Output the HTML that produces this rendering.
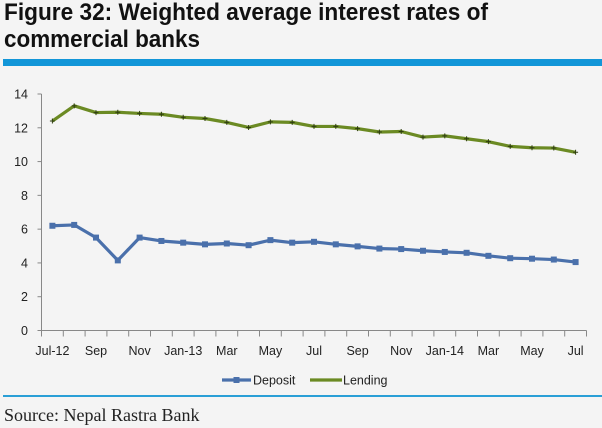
<!DOCTYPE html>
<html><head><meta charset="utf-8"><style>
html,body{margin:0;padding:0;background:#f4f4f4;}
svg{display:block;font-family:"Liberation Sans",sans-serif;}
</style></head><body>
<svg width="602" height="428" viewBox="0 0 602 428">
<rect x="0" y="0" width="602" height="428" fill="#f4f4f4"/>
<text x="4" y="20" font-size="24" font-weight="bold" fill="#111" textLength="484" lengthAdjust="spacingAndGlyphs">Figure 32: Weighted average interest rates of</text>
<text x="4" y="47" font-size="24" font-weight="bold" fill="#111" textLength="196" lengthAdjust="spacingAndGlyphs">commercial banks</text>
<rect x="3" y="59" width="599" height="7" fill="#1296d8"/>
<g id="chart"></g>
<rect x="3" y="395" width="599" height="2" fill="#2a9fd6"/>
<text x="4" y="421" font-family="Liberation Serif,serif" font-size="18" fill="#222">Source: Nepal Rastra Bank</text>
</svg>
<script>
const categories=["Jul-12","Aug","Sep","Oct","Nov","Dec","Jan-13","Feb","Mar","Apr","May","Jun","Jul","Aug","Sep","Oct","Nov","Dec","Jan-14","Feb","Mar","Apr","May","Jun","Jul"];
const deposit=[6.2,6.25,5.5,4.15,5.5,5.3,5.2,5.1,5.15,5.05,5.35,5.2,5.25,5.1,4.98,4.85,4.82,4.72,4.65,4.6,4.42,4.28,4.25,4.2,4.05];
const lending=[12.4,13.3,12.9,12.92,12.85,12.8,12.62,12.55,12.32,12.02,12.35,12.32,12.08,12.08,11.95,11.75,11.78,11.45,11.52,11.35,11.18,10.9,10.82,10.8,10.55];
const yTicks=[0,2,4,6,8,10,12,14];
const NS="http://www.w3.org/2000/svg";
const g=document.getElementById('chart');
const X0=41.5,X1=586.5,Y0=330.5,Y1=94,YMAX=14;
const bw=(X1-X0)/categories.length;
function xs(i){return X0+bw*(i+0.5);}
function ys(v){return Y0-(v/YMAX)*(Y0-Y1);}
function mk(t,a){const e=document.createElementNS(NS,t);for(const k in a)e.setAttribute(k,a[k]);g.appendChild(e);return e;}
let e=mk('line',{x1:X0,y1:Y1,x2:X0,y2:Y0,stroke:'#888','stroke-width':1});


e=mk('line',{x1:X0,y1:Y0,x2:X1,y2:Y0,stroke:'#888','stroke-width':1});


yTicks.forEach(v=>{
 const y=ys(v);
 let t=mk('line',{x1:X0-4,y1:y,x2:X0,y2:y,stroke:'#888'});
 
 
 let l=mk('text',{x:28,y:y+4.5,'text-anchor':'end','font-size':12.5,fill:'#222'});
 l.textContent=v;
 
 
});
for(let i=0;i<=categories.length;i++){
 const x=X0+bw*i;
 let t=mk('line',{x1:x,y1:Y0,x2:x,y2:Y0+6,stroke:'#888'});
 
 
}
categories.forEach((c,i)=>{
 if(i%2)return;
 let l=mk('text',{x:xs(i),y:355,'text-anchor':'middle','font-size':12.5,fill:'#222'});
 l.textContent=c;
 
 
});
function series(vals,color,name,sq){
 let p=mk('polyline',{points:vals.map((v,i)=>xs(i)+','+ys(v)).join(' '),fill:'none',stroke:color,'stroke-width':3.2,'stroke-linejoin':'round'});
 
 
 vals.forEach((v,i)=>{
  let m;
  if(sq){m=mk('rect',{x:xs(i)-3,y:ys(v)-3,width:6,height:6,fill:color});}
  else{m=mk('path',{d:`M${xs(i)-2.5},${ys(v)}h5M${xs(i)},${ys(v)-2.5}v5`,stroke:'#2e3d10','stroke-width':1});}
  
  
 });
}
series(lending,'#6b8a23','lending',false);
series(deposit,'#4a70ab','deposit',true);
// legend
e=mk('line',{x1:222,y1:380,x2:251,y2:380,stroke:'#4a70ab','stroke-width':3.2});


e=mk('rect',{x:233.5,y:377,width:6,height:6,fill:'#4a70ab'});


e=mk('text',{x:253,y:384.5,'font-size':12.5,fill:'#222'});e.textContent='Deposit';


e=mk('line',{x1:310,y1:380,x2:342,y2:380,stroke:'#6b8a23','stroke-width':3.2});


e=mk('text',{x:343,y:384.5,'font-size':12.5,fill:'#222'});e.textContent='Lending';


</script>
</body></html>
